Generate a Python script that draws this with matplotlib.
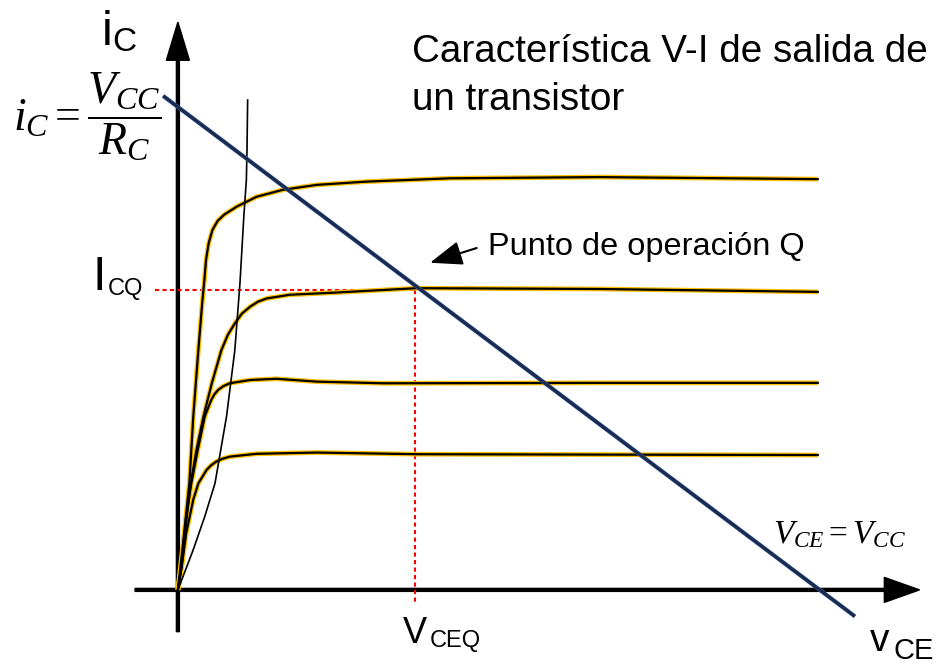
import numpy as np
import matplotlib
matplotlib.use("Agg")
import matplotlib.pyplot as plt

plt.rcParams["font.family"] = ["Liberation Sans", "DejaVu Sans"]
plt.rcParams["mathtext.fontset"] = "custom"
plt.rcParams["mathtext.it"] = "Liberation Serif:italic"
plt.rcParams["mathtext.rm"] = "Liberation Serif"

# curvas de salida (VCE en V, iC en mA), de la mas alta a la mas baja
vce_1 = [0, 0.07, 0.18, 0.24, 0.32, 0.38, 0.41, 0.44, 0.48, 0.54, 0.62, 0.72, 0.92, 1.23,
         1.64, 2.17, 2.95, 4.25, 6.59, 10.0]
ic_1 = [0, 0.98, 2.61, 4.22, 5.85, 7.00, 7.49, 8.05, 8.45, 8.78, 9.00, 9.15, 9.35, 9.59,
        9.76, 9.88, 9.96, 10.04, 10.07, 10.02]

vce_2 = [0, 0.06, 0.14, 0.20, 0.29, 0.40, 0.53, 0.68, 0.78, 0.89, 1.00, 1.13, 1.25, 1.39,
         1.75, 2.43, 3.73, 6.59, 10.0]
ic_2 = [0, 0.57, 1.79, 2.60, 3.41, 4.23, 5.04, 5.85, 6.22, 6.50, 6.74, 6.91, 7.03, 7.11,
        7.20, 7.25, 7.36, 7.34, 7.27]

vce_3 = [0, 0.05, 0.13, 0.21, 0.31, 0.42, 0.52, 0.57, 0.63, 0.71, 0.81, 1.13, 1.54, 2.17,
         3.21, 6.59, 10.0]
ic_3 = [0, 0.57, 1.79, 2.60, 3.41, 4.23, 4.63, 4.77, 4.88, 4.97, 5.04, 5.12, 5.15, 5.08,
        5.04, 5.05, 5.05]

vce_4 = [0, 0.06, 0.13, 0.24, 0.32, 0.45, 0.52, 0.60, 0.70, 0.81, 1.23, 2.17, 3.73, 6.59, 10.0]
ic_4 = [0, 0.57, 1.38, 2.20, 2.60, 2.93, 3.04, 3.13, 3.20, 3.25, 3.32, 3.35, 3.31, 3.30, 3.29]

# curva de saturacion
vce_sat = [0, 0.14, 0.24, 0.42, 0.58, 0.76, 0.89, 0.97, 1.03, 1.07, 1.08, 1.09]
ic_sat = [0, 0.57, 0.98, 1.79, 2.60, 4.23, 5.85, 7.48, 9.10, 10.0, 10.73, 11.95]

# recta de carga y punto Q
VCC = 10.03
IC_MAX = 11.78
VCEQ = 3.70
ICQ = 7.32

fig = plt.figure(figsize=(9.4, 6.69), dpi=100)
ax = fig.add_axes([0, 0, 1, 1])
ax.set_xlim(-2.78, 11.91)
ax.set_ylim(-1.93, 14.39)
ax.axis("off")

# ejes con flechas
ax.arrow(-0.67, 0, 11.59 + 0.67, 0, width=0.073, head_width=0.61, head_length=0.55,
         length_includes_head=True, color="black", zorder=2)
ax.arrow(0, -1.02, 0, 13.85 + 1.02, width=0.047, head_width=0.36, head_length=0.93,
         length_includes_head=True, color="black", zorder=2)

# lineas punteadas del punto Q
ax.plot([-0.36, VCEQ], [ICQ, ICQ], color="red", lw=1.5, dashes=(2, 1.6), zorder=3)
ax.plot([VCEQ, VCEQ], [ICQ, -0.37], color="red", lw=1.5, dashes=(2, 1.6), zorder=3)

# curvas caracteristicas
for vce, ic in [(vce_1, ic_1), (vce_2, ic_2), (vce_3, ic_3), (vce_4, ic_4)]:
    ax.plot(vce, ic, color="#FFC000", lw=3.4, solid_capstyle="butt", zorder=4)
    ax.plot(vce, ic, color="black", lw=1.6, zorder=5)

ax.plot(vce_sat, ic_sat, color="black", lw=1.2, zorder=5)

# recta de carga
x_load = np.array([-0.23, 10.58])
ax.plot(x_load, IC_MAX * (1 - x_load / VCC), color="#2E5597", lw=3.0,
        solid_capstyle="butt", zorder=6)
ax.plot(x_load, IC_MAX * (1 - x_load / VCC), color="#1B2A4A", lw=2.0,
        solid_capstyle="butt", zorder=6)

# textos
ax.text(3.66, 12.88, "Característica V-I de salida de", fontsize=27.8, va="baseline")
ax.text(3.66, 11.71, "un transistor", fontsize=27.8, va="baseline")

ax.text(4.84, 8.17, "Punto de operación Q", fontsize=23.4, va="baseline")
ax.annotate("", xy=(3.94, 7.98), xytext=(4.67, 8.34),
            arrowprops=dict(arrowstyle="-|>,head_length=0.4,head_width=0.15",
                            mutation_scale=50, color="black", lw=1.5,
                            shrinkA=0, shrinkB=0), zorder=7)

ax.text(-1.19, 13.29, "i", fontsize=35, va="baseline")
ax.text(-1.02, 13.15, "C", fontsize=24, va="baseline")

ax.text(-1.34, 7.32, "I", fontsize=35, va="baseline")
ax.text(-1.10, 7.20, "CQ", fontsize=17, va="baseline")

ax.text(3.52, -1.30, "V", fontsize=26, va="baseline")
ax.text(3.93, -1.40, "CEQ", fontsize=17, va="baseline")

ax.text(10.81, -1.48, "v", fontsize=28, va="baseline")
ax.text(11.18, -1.68, "CE", fontsize=21, va="baseline")

ax.text(-2.58, 11.54, r"$i_C = \dfrac{V_{CC}}{R_C}$", fontsize=33, va="center", ha="left")
ax.text(9.30, 1.15, r"$V_{CE} = V_{CC}$", fontsize=24, va="baseline", ha="left")

fig.savefig("out.png", dpi=100)
